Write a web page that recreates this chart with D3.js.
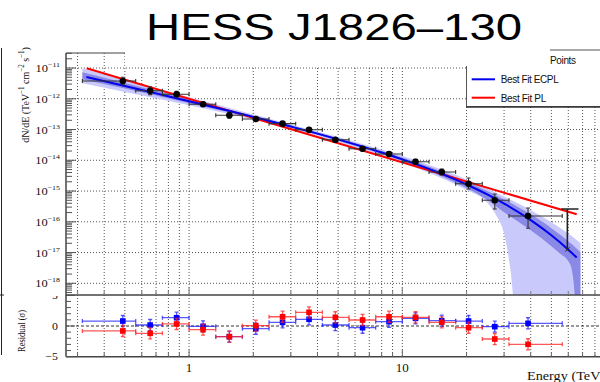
<!DOCTYPE html>
<html><head><meta charset="utf-8">
<script src="https://cdn.jsdelivr.net/npm/d3@7"></script>
<style>body{margin:0;background:#fff}svg{display:block}</style>
</head><body>
<svg id="c" width="600" height="382"></svg>
<script>
// ---------------- data ----------------
const binEdges = [0.316,0.562,0.750,1.000,1.334,1.778,2.371,3.162,4.217,5.623,7.499,10.0,13.34,17.78,23.71,31.62,56.23];
const pointE = [0.489,0.657,0.874,1.163,1.545,2.056,2.744,3.652,4.852,6.508,8.663,11.53,15.30,20.44,27.13,38.85];
const pointFlux = [3.78e-12,1.83e-12,1.40e-12,6.6e-13,2.90e-13,2.20e-13,1.55e-13,9.86e-14,4.67e-14,2.38e-14,1.60e-14,8.99e-15,4.16e-15,1.73e-15,5.0e-16,1.55e-16];
const pointFluxLo = [2.85e-12,1.36e-12,1.12e-12,5.68e-13,2.32e-13,1.89e-13,1.33e-13,8.49e-14,4.02e-14,2.05e-14,1.38e-14,7.45e-15,3.32e-15,1.16e-15,2.61e-16,6.2e-17];
const pointFluxHi = [5.0e-12,2.47e-12,1.75e-12,7.67e-13,3.63e-13,2.56e-13,1.80e-13,1.146e-13,5.43e-14,2.77e-14,1.86e-14,1.084e-14,5.21e-15,2.65e-15,8.0e-16,2.82e-16];
const limitE = [59.4];
const limitFlux = [1.26e-17];
const limitFluxHi = [2.61e-16];
const limitCapE = [55.6, 67.0];

const plE = [0.331, 65.7];
const plFlux = [9.78e-12, 1.75e-16];

const ecplE = [0.33,0.5,0.7,1,1.5,2,3,4,6,8,10,15,20,25,30,40,50,60,65.7];
const ecplFlux = [5.09e-12,2.61e-12,1.50e-12,8.36e-13,4.23e-13,2.58e-13,1.25e-13,7.35e-14,3.30e-14,1.79e-14,1.07e-14,3.81e-15,1.63e-15,7.74e-16,3.92e-16,1.13e-16,3.63e-17,1.24e-17,6.87e-18];

// confidence bands, log10 of flux
const bandE = [0.316,0.5,1,2,3,5,8,12,16,20,25,28,30,32,35,40,45,50,55,60,62,64.4,66,68.4];
const lightHiLog10 = [-11.008,-11.389,-11.948,-12.508,-12.837,-13.241,-13.650,-14.039,-14.351,-14.624,-14.916,-15.080,-15.179,-15.275,-15.407,-15.621,-15.823,-16.017,-16.205,-16.387,-16.454,-16.543,-16.602,-16.698];
const lightLoLog10 = [-11.496,-11.779,-12.208,-12.670,-12.967,-13.403,-13.845,-14.287,-14.643,-14.966,-15.371,-15.876,-16.382,-17.469,-20,-20,-20,-20,-20,-20,-20,-20,-20,-20];
const darkHiLog10 = [-11.138,-11.487,-12.013,-12.550,-12.870,-13.283,-13.698,-14.098,-14.419,-14.696,-15.000,-15.167,-15.274,-15.376,-15.524,-15.757,-15.986,-16.206,-16.422,-16.634,-16.717,-16.819,-16.888,-16.990];
const darkLoLog10 = [-11.366,-11.669,-12.143,-12.628,-12.935,-13.361,-13.796,-14.228,-14.582,-14.901,-15.290,-15.535,-15.693,-15.821,-15.998,-16.271,-16.532,-16.791,-17.037,-17.281,-17.485,-18.405,-20,-20];

const residECPL = [0.81,0.16,1.35,-0.05,-1.74,-0.44,0.60,1.09,0.16,-0.28,0.70,1.25,0.86,0.81,-0.11,0.44];
const residPL = [-0.81,-1.19,0.33,-0.60,-1.74,0.05,1.51,2.23,1.42,0.98,1.51,1.42,0.60,-0.28,-2.12,-2.98];
const residErr = [0.9,0.9,0.9,0.9,0.9,0.9,0.9,0.9,0.9,0.9,0.9,0.9,0.9,0.9,0.9,0.9];

const yTickExps = [-11,-12,-13,-14,-15,-16,-17,-18];
const xTickLabels = [1, 10];
const resTickLabels = [-5, 0, 5];
const titleText = "HESS J1826–130";
const legendLabels = ["Points", "Best Fit ECPL", "Best Fit PL"];

// ---------------- layout ----------------
const svg = d3.select('#c');
const L = 66, R = 615.6, T = 53, B = 295, RB = 356.7;
const SX = 1.13; // horizontal stretch of text in the reference
const x = d3.scaleLog().domain([0.2648, 100]).range([L, R]);
const y = d3.scaleLog().domain([Math.pow(10,-18.38), Math.pow(10,-10.512)]).range([B, T]);
const yr = d3.scaleLinear().domain([-5, 5]).range([RB, B + 0.3]);

const serif = "'Liberation Serif','Times New Roman',serif";
const sans = "'Liberation Sans',Arial,Helvetica,sans-serif";

const defs = svg.append('defs');
defs.append('clipPath').attr('id','clipTop').append('rect').attr('x',L).attr('y',T).attr('width',R-L).attr('height',B-T);
defs.append('clipPath').attr('id','clipRes').append('rect').attr('x',L).attr('y',B).attr('width',R-L).attr('height',RB-B);
defs.append('clipPath').attr('id','clipResLbl').append('rect').attr('x',0).attr('y',B+1).attr('width',R).attr('height',90);

// left pad border
svg.append('line').attr('x1',1.5).attr('x2',1.5).attr('y1',48).attr('y2',355).attr('stroke','#222').attr('stroke-width',1);
svg.append('line').attr('x1',0).attr('x2',4).attr('y1',B).attr('y2',B).attr('stroke','#222').attr('stroke-width',1);

const gridX = x.ticks().filter(v => v < 99);
const isMajor = v => Math.abs(Math.log10(v) - Math.round(Math.log10(v))) < 1e-6;

// ---------------- residual panel ----------------
const gRes = svg.append('g');
gRes.selectAll('line.gx').data(gridX).join('line')
  .attr('x1', d=>x(d)).attr('x2', d=>x(d)).attr('y1', B).attr('y2', RB)
  .attr('stroke','#555').attr('stroke-width',1).attr('stroke-dasharray','1,2');
gRes.append('line').attr('x1',L).attr('x2',R).attr('y1',yr(0)).attr('y2',yr(0))
  .attr('stroke','#333').attr('stroke-width',1).attr('stroke-dasharray','3,2');

function residSeries(vals, color, barColor) {
  const g = gRes.append('g').attr('clip-path','url(#clipRes)');
  vals.forEach((v,i) => {
    const cx = x(pointE[i]), cy = yr(v);
    const x0 = x(binEdges[i]), x1 = x(binEdges[i+1]);
    const y0 = yr(v - residErr[i]), y1 = yr(v + residErr[i]);
    const s = {stroke: barColor, 'stroke-width': 1.3, 'stroke-opacity': 0.75};
    const ln = (a,b,c,d) => { const l = g.append('line').attr('x1',a).attr('y1',b).attr('x2',c).attr('y2',d); Object.entries(s).forEach(([k,vv])=>l.attr(k,vv)); };
    ln(x0,cy,x1,cy); ln(x0,cy-2,x0,cy+2); ln(x1,cy-2,x1,cy+2);
    ln(cx,y0,cx,y1); ln(cx-2,y0,cx+2,y0); ln(cx-2,y1,cx+2,y1);
    g.append('rect').attr('x',cx-2.8).attr('y',cy-2.8).attr('width',5.6).attr('height',5.6).attr('fill',color);
  });
}
residSeries(residECPL, '#0000ff', '#2020ff');
residSeries(residPL, '#ff0000', '#ff2020');

// residual frame & ticks
gRes.append('line').attr('x1',L).attr('x2',R).attr('y1',RB).attr('y2',RB).attr('stroke','#444').attr('stroke-width',1.5);
gRes.append('line').attr('x1',L).attr('x2',L).attr('y1',B).attr('y2',RB).attr('stroke','#444').attr('stroke-width',1.5);
d3.range(-5,6).forEach(v => {
  const len = (v % 5 === 0) ? 9 : 5;
  gRes.append('line').attr('x1',L).attr('x2',L+len).attr('y1',yr(v)).attr('y2',yr(v)).attr('stroke','#555').attr('stroke-width',1);
});
gridX.forEach(v => {
  const len = isMajor(v) ? 7 : 4;
  gRes.append('line').attr('x1',x(v)).attr('x2',x(v)).attr('y1',RB).attr('y2',RB-len).attr('stroke','#666').attr('stroke-width',1);
});
const resLbl = gRes.append('g').attr('clip-path','url(#clipResLbl)');
resTickLabels.forEach(v => {
  resLbl.append('text').attr('transform',`translate(58,${yr(v)+3.5}) scale(${SX},1)`)
    .attr('text-anchor','end').attr('font-family',serif).attr('font-size',10.5).attr('fill','#111')
    .text(v < 0 ? '−' + Math.abs(v) : String(v));
});
svg.append('text').attr('transform',`translate(25,331) scale(${SX},1) rotate(-90)`)
  .attr('text-anchor','middle').attr('font-family',serif).attr('font-size',8.5).attr('fill','#111')
  .text('Residual (σ)');

xTickLabels.forEach(v => {
  svg.append('text').attr('transform',`translate(${x(v)},372) scale(${SX},1)`)
    .attr('text-anchor','middle').attr('font-family',serif).attr('font-size',11.5).attr('fill','#111').text(String(v));
});
svg.append('text').attr('transform',`translate(527,380) scale(${SX},1)`)
  .attr('font-family',serif).attr('font-size',12.6).attr('fill','#111').text('Energy (TeV)');

// ---------------- top panel ----------------
const gTop = svg.append('g');
gTop.append('rect').attr('x',L).attr('y',T).attr('width',R-L).attr('height',B-T).attr('fill','#fff');
gTop.selectAll('line.gx').data(gridX).join('line')
  .attr('x1', d=>x(d)).attr('x2', d=>x(d)).attr('y1', T).attr('y2', B)
  .attr('stroke','#555').attr('stroke-width',1).attr('stroke-dasharray','1,2');
gTop.selectAll('line.gy').data(yTickExps).join('line')
  .attr('x1', L).attr('x2', R).attr('y1', d=>y(Math.pow(10,d))).attr('y2', d=>y(Math.pow(10,d)))
  .attr('stroke','#555').attr('stroke-width',1).attr('stroke-dasharray','1,2');

const plot = gTop.append('g').attr('clip-path','url(#clipTop)');
const bandData = bandE.map((e,i)=>({e, lh:lightHiLog10[i], ll:lightLoLog10[i], dh:darkHiLog10[i], dl:darkLoLog10[i]}));
const yl = v => y(Math.pow(10, v));
plot.append('path').datum(bandData)
  .attr('d', d3.area().x(d=>x(d.e)).y0(d=>Math.min(yl(d.ll), B+40)).y1(d=>yl(d.lh)).curve(d3.curveMonotoneX))
  .attr('fill','#c9c9fb');
plot.append('path').datum(bandData)
  .attr('d', d3.area().x(d=>x(d.e)).y0(d=>Math.min(yl(d.dl), B+40)).y1(d=>yl(d.dh)).curve(d3.curveMonotoneX))
  .attr('fill','#8a8ae6');

plot.append('path').datum(plE.map((e,i)=>[e,plFlux[i]]))
  .attr('d', d3.line().x(d=>x(d[0])).y(d=>y(d[1])))
  .attr('fill','none').attr('stroke','#ff0000').attr('stroke-width',2);
plot.append('path').datum(ecplE.map((e,i)=>[e,ecplFlux[i]]))
  .attr('d', d3.line().x(d=>x(d[0])).y(d=>y(d[1])).curve(d3.curveMonotoneX))
  .attr('fill','none').attr('stroke','#0000ee').attr('stroke-width',2);

// flux points
pointE.forEach((e,i) => {
  const cx = x(e), cy = y(pointFlux[i]);
  const x0 = x(binEdges[i]), x1 = x(binEdges[i+1]);
  const y0 = y(pointFluxLo[i]), y1 = y(pointFluxHi[i]);
  const ln = (a,b,c,d) => plot.append('line').attr('x1',a).attr('y1',b).attr('x2',c).attr('y2',d).attr('stroke','#333').attr('stroke-width',1.1);
  ln(x0,cy,x1,cy); ln(x0,cy-2,x0,cy+2); ln(x1,cy-2,x1,cy+2);
  ln(cx,y0,cx,y1); ln(cx-2,y0,cx+2,y0); ln(cx-2,y1,cx+2,y1);
  plot.append('circle').attr('cx',cx).attr('cy',cy).attr('r',3.3).attr('fill','#000');
});
limitE.forEach((e,i) => {
  const cx = x(e), cy = y(limitFlux[i]), top = y(limitFluxHi[i]);
  plot.append('line').attr('x1',cx).attr('x2',cx).attr('y1',cy).attr('y2',top).attr('stroke','#222').attr('stroke-width',1.6);
  plot.append('line').attr('x1',x(limitCapE[0])).attr('x2',x(limitCapE[1])).attr('y1',top).attr('y2',top).attr('stroke','#222').attr('stroke-width',1.6);
  plot.append('path').attr('d', d3.symbol(d3.symbolTimes, 14)()).attr('transform',`translate(${cx},${cy})`)
    .attr('fill','none').attr('stroke','#222').attr('stroke-width',1);
});

// frame & ticks
gTop.append('line').attr('x1',L).attr('x2',R).attr('y1',B).attr('y2',B).attr('stroke','#444').attr('stroke-width',1.5);
gTop.append('line').attr('x1',L).attr('x2',L).attr('y1',T).attr('y2',B).attr('stroke','#444').attr('stroke-width',1.5);
gTop.append('line').attr('x1',L).attr('x2',R).attr('y1',T).attr('y2',T).attr('stroke','#444').attr('stroke-width',1.2);
y.ticks().forEach(v => {
  const len = isMajor(v) ? 10 : 6;
  gTop.append('line').attr('x1',L).attr('x2',L+len).attr('y1',y(v)).attr('y2',y(v)).attr('stroke','#555').attr('stroke-width',1);
});
gridX.forEach(v => {
  const len = isMajor(v) ? 8 : 4;
  gTop.append('line').attr('x1',x(v)).attr('x2',x(v)).attr('y1',B).attr('y2',B-len).attr('stroke','#888').attr('stroke-width',1.2);
});
yTickExps.forEach(p => {
  const t = svg.append('text').attr('transform',`translate(60,${y(Math.pow(10,p))+4}) scale(${SX},1)`)
    .attr('text-anchor','end').attr('font-family',serif).attr('font-size',11).attr('fill','#111');
  t.append('tspan').text('10');
  t.append('tspan').attr('dy',-5).attr('font-size',7).text('−' + Math.abs(p));
});
const yl2 = svg.append('text').attr('transform',`translate(29,95) scale(${SX},1) rotate(-90)`)
  .attr('text-anchor','middle').attr('font-family',serif).attr('font-size',10).attr('fill','#111');
yl2.append('tspan').text('dN/dE (TeV');
yl2.append('tspan').attr('dy',-4).attr('font-size',7).text('−1');
yl2.append('tspan').attr('dy',4).text(' cm');
yl2.append('tspan').attr('dy',-4).attr('font-size',7).text('−2');
yl2.append('tspan').attr('dy',4).text(' s');
yl2.append('tspan').attr('dy',-4).attr('font-size',7).text('−1');
yl2.append('tspan').attr('dy',4).text(')');

// ---------------- legend ----------------
const lg = svg.append('g');
lg.append('rect').attr('x',466.5).attr('y',50).attr('width',140).attr('height',56.5).attr('fill','#fff').attr('stroke','#555').attr('stroke-width',1);
lg.append('line').attr('x1',466.5).attr('x2',606).attr('y1',107).attr('y2',107).attr('stroke','#333').attr('stroke-width',1.5);
lg.append('text').attr('x',550).attr('y',64).attr('font-family',sans).attr('font-size',10).attr('fill','#111').attr('textLength',26).text(legendLabels[0]);
lg.append('line').attr('x1',471.7).attr('x2',495).attr('y1',79.3).attr('y2',79.3).attr('stroke','#0000ee').attr('stroke-width',2);
lg.append('text').attr('x',500.7).attr('y',83.3).attr('font-family',sans).attr('font-size',10).attr('fill','#111').attr('textLength',58).text(legendLabels[1]);
lg.append('line').attr('x1',471.7).attr('x2',495).attr('y1',97.7).attr('y2',97.7).attr('stroke','#ff0000').attr('stroke-width',2);
lg.append('text').attr('x',500.7).attr('y',101.7).attr('font-family',sans).attr('font-size',10).attr('fill','#111').attr('textLength',45.5).text(legendLabels[2]);

// ---------------- title ----------------
svg.append('rect').attr('x',125).attr('y',0).attr('width',425).attr('height',66).attr('fill','#fff');
svg.append('text').attr('x',146).attr('y',39.5).attr('font-family',sans).attr('font-size',37.5).attr('fill','#000')
  .attr('textLength',376).attr('lengthAdjust','spacingAndGlyphs').text(titleText);
</script>
</body></html>
